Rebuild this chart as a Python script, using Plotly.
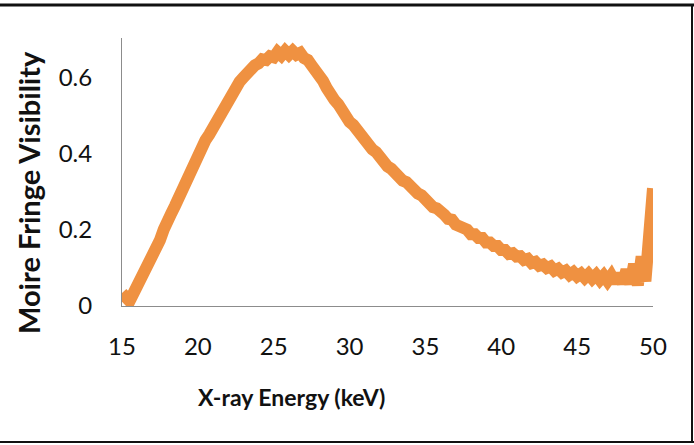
import numpy as np
import plotly.graph_objects as go

energy_kev = list(np.round(np.arange(15.0, 50.0001, 0.25), 2))
visibility = [
    0.034, 0.017, 0.013, 0.033, 0.051, 0.072, 0.094, 0.103, 0.121, 0.153,
    0.173, 0.201, 0.217, 0.244, 0.264, 0.287, 0.306, 0.333, 0.351, 0.374,
    0.397, 0.418, 0.436, 0.451, 0.470, 0.490, 0.506, 0.528, 0.547, 0.563,
    0.577, 0.590, 0.601, 0.614, 0.621, 0.633, 0.638, 0.649, 0.647, 0.657,
    0.654, 0.668, 0.659, 0.671, 0.661, 0.671, 0.661, 0.666, 0.652, 0.647,
    0.633, 0.623, 0.602, 0.592, 0.573, 0.563, 0.542, 0.531, 0.513, 0.503,
    0.484, 0.476, 0.461, 0.453, 0.435, 0.428, 0.412, 0.405, 0.387, 0.381,
    0.367, 0.361, 0.347, 0.342, 0.330, 0.326, 0.312, 0.308, 0.296, 0.291,
    0.276, 0.272, 0.260, 0.257, 0.243, 0.240, 0.229, 0.227, 0.214, 0.212,
    0.202, 0.201, 0.189, 0.189, 0.179, 0.179, 0.167, 0.167, 0.158, 0.158,
    0.147, 0.147, 0.137, 0.139, 0.130, 0.131, 0.121, 0.124, 0.113, 0.116,
    0.106, 0.109, 0.100, 0.104, 0.093, 0.098, 0.088, 0.093, 0.082, 0.089,
    0.078, 0.085, 0.074, 0.084, 0.072, 0.082, 0.069, 0.080, 0.066, 0.080,
    0.062, 0.084, 0.060, 0.095, 0.058, 0.110, 0.055, 0.130, 0.065, 0.215,
    0.310,
]
x_ticks = [15, 20, 25, 30, 35, 40, 45, 50]
y_ticks = [0, 0.2, 0.4, 0.6]
y_tick_text = ["0", "0.2", "0.4", "0.6"]

x_title = "X-ray Energy (keV)"
y_title = "Moire Fringe Visibility"

FONT = "Lato"
fig = go.Figure()
fig.add_trace(go.Scatter(
    x=energy_kev, y=visibility, mode="lines",
    line=dict(color="#EF9141", width=12),
    showlegend=False, hoverinfo="skip",
))

axis_common = dict(
    showgrid=False, zeroline=False, showline=True,
    linecolor="#8C8C8C", linewidth=1, ticks="",
    tickfont=dict(family=FONT, size=24, color="#111111"),
)
fig.update_xaxes(range=[15, 50], tickvals=x_ticks, ticklabelstandoff=19, **axis_common)
fig.update_yaxes(range=[0, 0.705], tickvals=y_ticks, ticktext=y_tick_text,
                 ticklabelstandoff=24, **axis_common)

fig.add_annotation(
    text=f"<b>{x_title}</b>", xref="paper", yref="paper",
    x=(291 - 122) / 531, y=(306 - 397) / 268, xanchor="center", yanchor="middle",
    showarrow=False, font=dict(family=FONT, size=23, color="#111111"),
)
fig.add_annotation(
    text=f"<b>{y_title}</b>", xref="paper", yref="paper",
    x=(28 - 122) / 531, y=(306 - 193) / 268, xanchor="center", yanchor="middle",
    textangle=-90, showarrow=False, font=dict(family=FONT, size=29, color="#111111"),
)

# chart frame lines (top, bottom, right)
fig.add_shape(type="line", xref="paper", yref="paper",
              x0=-0.25, x1=1.1, y0=(306 - 5) / 268, y1=(306 - 5) / 268,
              line=dict(color="#111111", width=3))
fig.add_shape(type="line", xref="paper", yref="paper",
              x0=-0.25, x1=1.1, y0=(306 - 442) / 268, y1=(306 - 442) / 268,
              line=dict(color="#111111", width=2))
fig.add_shape(type="line", xref="paper", yref="paper",
              x0=(692 - 122) / 531, x1=(692 - 122) / 531,
              y0=(306 - 5) / 268, y1=(306 - 442) / 268,
              line=dict(color="#111111", width=2))

fig.update_layout(
    width=694, height=445,
    margin=dict(l=122, r=41, t=38, b=139),
    paper_bgcolor="white", plot_bgcolor="white",
)
fig.write_html("out.html")
